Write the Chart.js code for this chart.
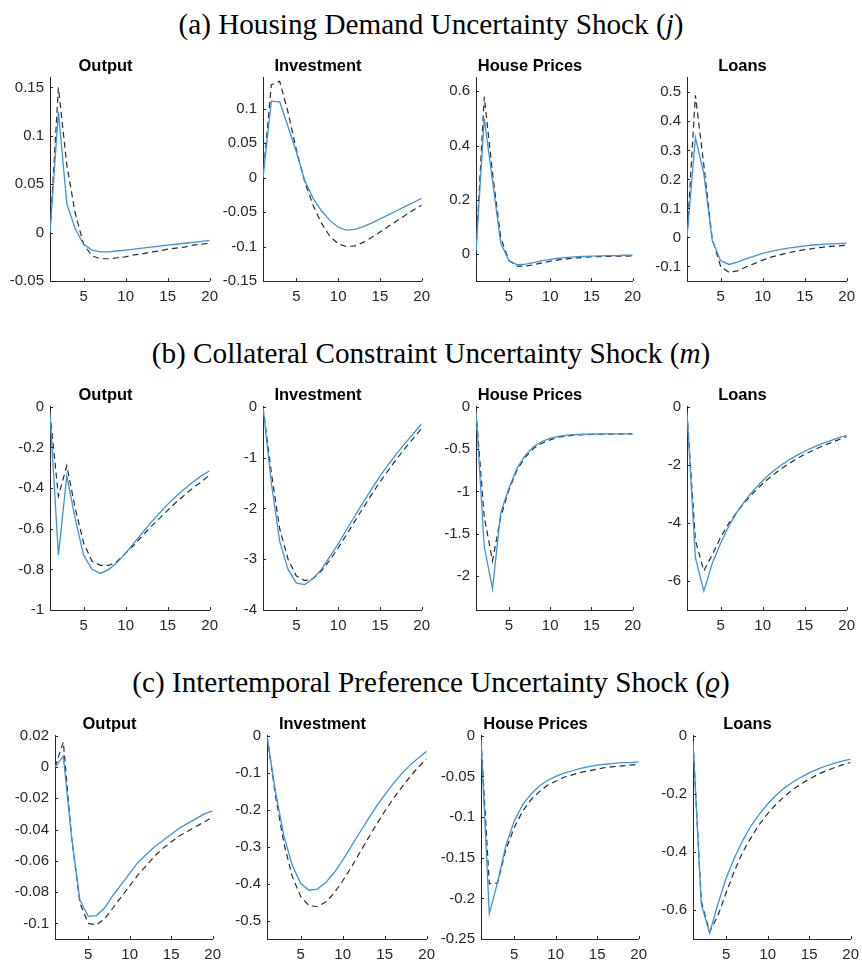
<!DOCTYPE html>
<html lang="en">
<head>
  <meta charset="UTF-8" />
  <title>Uncertainty shock impulse responses</title>
  <script src="https://cdn.jsdelivr.net/npm/chart.js"></script>
  <style>
    body { margin: 0; background: #fff; width: 862px; height: 963px; position: relative; overflow: hidden; }
    .heading { position: absolute; left: 0; width: 862px; text-align: center; white-space: nowrap;
               font-family: "Liberation Serif", "DejaVu Serif", serif; color: #000; line-height: 1.2; }
    .panel { position: absolute; }
  </style>
</head>
<body>
  <div class="heading" id="hA">(a) Housing Demand Uncertainty Shock (<i>j</i>)</div>
  <div class="heading" id="hB">(b) Collateral Constraint Uncertainty Shock (<i>m</i>)</div>
  <div class="heading" id="hC">(c) Intertemporal Preference Uncertainty Shock (<i>ϱ</i>)</div>

  <script>
    // horizon (quarters)
    const periods = [1,2,3,4,5,6,7,8,9,10,11,12,13,14,15,16,17,18,19,20];
    const xTicks = [5, 10, 15, 20];

    // (a) housing demand uncertainty shock: solid (blue) and dashed (black)
    const jOutputSolid = [0,0.125,0.03,0.004,-0.012,-0.018,-0.020,-0.020,-0.019,-0.018,-0.017,-0.016,-0.015,-0.014,-0.013,-0.012,-0.011,-0.010,-0.009,-0.008];
    const jOutputDash  = [0,0.150,0.07,0.02,-0.012,-0.024,-0.027,-0.027,-0.026,-0.025,-0.023,-0.022,-0.020,-0.019,-0.017,-0.016,-0.015,-0.013,-0.012,-0.011];
    const jInvSolid = [0,0.111,0.110,0.074,0.037,-0.004,-0.030,-0.048,-0.062,-0.072,-0.076,-0.075,-0.071,-0.066,-0.060,-0.054,-0.048,-0.042,-0.036,-0.030];
    const jInvDash  = [0,0.135,0.140,0.095,0.040,-0.006,-0.040,-0.066,-0.085,-0.096,-0.100,-0.099,-0.094,-0.087,-0.079,-0.071,-0.063,-0.055,-0.047,-0.040];
    const jHouseSolid = [0.01,0.50,0.27,0.04,-0.025,-0.040,-0.038,-0.032,-0.025,-0.020,-0.016,-0.013,-0.011,-0.009,-0.008,-0.007,-0.006,-0.006,-0.005,-0.005];
    const jHouseDash  = [0.01,0.58,0.30,0.06,-0.025,-0.045,-0.045,-0.040,-0.033,-0.027,-0.022,-0.018,-0.015,-0.013,-0.011,-0.010,-0.009,-0.008,-0.008,-0.007];
    const jLoansSolid = [0,0.345,0.22,-0.01,-0.080,-0.093,-0.085,-0.074,-0.064,-0.055,-0.048,-0.042,-0.037,-0.033,-0.029,-0.026,-0.024,-0.022,-0.021,-0.020];
    const jLoansDash  = [0,0.490,0.25,-0.005,-0.100,-0.120,-0.115,-0.102,-0.090,-0.078,-0.068,-0.060,-0.053,-0.047,-0.042,-0.038,-0.034,-0.031,-0.029,-0.027];

    // (b) collateral constraint uncertainty shock
    const mOutputSolid = [-0.03,-0.73,-0.34,-0.55,-0.73,-0.80,-0.82,-0.80,-0.765,-0.72,-0.67,-0.62,-0.57,-0.525,-0.48,-0.44,-0.405,-0.37,-0.34,-0.315];
    const mOutputDash  = [-0.03,-0.44,-0.29,-0.50,-0.67,-0.76,-0.78,-0.78,-0.76,-0.72,-0.68,-0.635,-0.59,-0.55,-0.51,-0.47,-0.435,-0.40,-0.37,-0.335];
    const mInvSolid = [0,-1.5,-2.65,-3.2,-3.47,-3.5,-3.38,-3.2,-2.95,-2.7,-2.42,-2.15,-1.88,-1.62,-1.37,-1.14,-0.92,-0.72,-0.53,-0.33];
    const mInvDash  = [0,-1.3,-2.4,-3.0,-3.33,-3.42,-3.38,-3.23,-3.02,-2.78,-2.52,-2.25,-1.99,-1.73,-1.48,-1.25,-1.03,-0.82,-0.62,-0.43];
    const mHouseSolid = [-0.05,-1.65,-2.15,-1.25,-0.96,-0.72,-0.57,-0.47,-0.41,-0.37,-0.35,-0.335,-0.328,-0.324,-0.322,-0.321,-0.32,-0.32,-0.32,-0.32];
    const mHouseDash  = [-0.05,-1.30,-1.82,-1.30,-0.98,-0.74,-0.59,-0.49,-0.43,-0.39,-0.36,-0.345,-0.335,-0.33,-0.326,-0.324,-0.322,-0.321,-0.32,-0.32];
    const mLoansSolid = [-0.2,-5.2,-6.35,-5.4,-4.7,-4.1,-3.6,-3.2,-2.85,-2.55,-2.28,-2.05,-1.85,-1.68,-1.53,-1.40,-1.28,-1.17,-1.07,-0.98];
    const mLoansDash  = [-0.2,-4.6,-5.65,-5.1,-4.5,-4.0,-3.6,-3.25,-2.93,-2.65,-2.40,-2.18,-1.98,-1.80,-1.64,-1.50,-1.37,-1.25,-1.14,-1.02];

    // (c) intertemporal preference uncertainty shock
    const rOutputSolid = [0,0.007,-0.045,-0.085,-0.0955,-0.095,-0.090,-0.082,-0.075,-0.068,-0.061,-0.056,-0.051,-0.047,-0.043,-0.039,-0.036,-0.033,-0.030,-0.028];
    const rOutputDash  = [0,0.016,-0.045,-0.087,-0.100,-0.101,-0.097,-0.090,-0.083,-0.076,-0.069,-0.063,-0.057,-0.052,-0.048,-0.044,-0.041,-0.038,-0.035,-0.032];
    const rInvSolid = [0,-0.15,-0.27,-0.35,-0.40,-0.418,-0.415,-0.397,-0.37,-0.337,-0.30,-0.263,-0.227,-0.192,-0.16,-0.13,-0.103,-0.08,-0.06,-0.042];
    const rInvDash  = [0,-0.16,-0.29,-0.38,-0.435,-0.46,-0.462,-0.45,-0.425,-0.393,-0.357,-0.318,-0.279,-0.241,-0.205,-0.171,-0.14,-0.111,-0.085,-0.062];
    const rHouseSolid = [-0.005,-0.219,-0.18,-0.135,-0.105,-0.085,-0.072,-0.062,-0.055,-0.050,-0.046,-0.043,-0.040,-0.038,-0.036,-0.035,-0.034,-0.033,-0.033,-0.032];
    const rHouseDash  = [-0.005,-0.182,-0.181,-0.140,-0.113,-0.093,-0.079,-0.069,-0.061,-0.056,-0.051,-0.048,-0.045,-0.043,-0.041,-0.039,-0.038,-0.037,-0.036,-0.035];
    const rLoansSolid = [-0.02,-0.58,-0.68,-0.58,-0.49,-0.42,-0.36,-0.31,-0.27,-0.235,-0.205,-0.18,-0.16,-0.143,-0.128,-0.115,-0.104,-0.095,-0.087,-0.08];
    const rLoansDash  = [-0.02,-0.57,-0.675,-0.62,-0.54,-0.465,-0.40,-0.35,-0.305,-0.268,-0.236,-0.209,-0.186,-0.166,-0.149,-0.134,-0.121,-0.110,-0.100,-0.092];

    // y tick labels per panel
    const jOutputTicks = [-0.05, 0, 0.05, 0.1, 0.15];
    const jInvTicks = [-0.15, -0.1, -0.05, 0, 0.05, 0.1];
    const jHouseTicks = [0, 0.2, 0.4, 0.6];
    const jLoansTicks = [-0.1, 0, 0.1, 0.2, 0.3, 0.4, 0.5];
    const mOutputTicks = [-1, -0.8, -0.6, -0.4, -0.2, 0];
    const mInvTicks = [-4, -3, -2, -1, 0];
    const mHouseTicks = [-2, -1.5, -1, -0.5, 0];
    const mLoansTicks = [-6, -4, -2, 0];
    const rOutputTicks = [-0.1, -0.08, -0.06, -0.04, -0.02, 0, 0.02];
    const rInvTicks = [-0.5, -0.4, -0.3, -0.2, -0.1, 0];
    const rHouseTicks = [-0.25, -0.2, -0.15, -0.1, -0.05, 0];
    const rLoansTicks = [-0.6, -0.4, -0.2, 0];

    const BLUE = '#3f92d8';
    const AXIS = '#262626';
    const SANS = '"Liberation Sans", Arial, sans-serif';

    // fit the serif headings to the width of the original
    function placeHeadings() {
      const a = document.getElementById('hA');
      const span = document.createElement('span');
      span.innerHTML = a.innerHTML;
      span.style.cssText = 'position:absolute;visibility:hidden;white-space:nowrap;font-family:"Liberation Serif","DejaVu Serif",serif;font-size:24px';
      document.body.appendChild(span);
      const size = 24 * 505 / span.offsetWidth;
      span.remove();
      [['hA', 25], ['hB', 354], ['hC', 683]].forEach(([id, cy]) => {
        const el = document.getElementById(id);
        el.style.fontSize = size + 'px';
        el.style.top = (cy - size * 0.6) + 'px';
      });
    }
    placeHeadings();

    // inward tick marks like MATLAB axes
    const innerTicks = {
      id: 'innerTicks',
      afterDraw(chart) {
        const { ctx, chartArea, scales } = chart;
        ctx.save();
        ctx.strokeStyle = AXIS;
        ctx.lineWidth = 1;
        ctx.beginPath();
        scales.x.ticks.forEach(t => {
          const px = Math.round(scales.x.getPixelForValue(t.value)) + 0.5;
          ctx.moveTo(px, chartArea.bottom);
          ctx.lineTo(px, chartArea.bottom - 3);
        });
        scales.y.ticks.forEach(t => {
          const py = Math.round(scales.y.getPixelForValue(t.value)) + 0.5;
          ctx.moveTo(chartArea.left, py);
          ctx.lineTo(chartArea.left + 3, py);
        });
        ctx.stroke();
        ctx.restore();
      }
    };

    function makePanel(title, solid, dash, yTicks, yMin, yMax, box) {
      const [left, top, right, bottom] = box;
      const div = document.createElement('div');
      div.className = 'panel';
      const w = right - left + 50 + 14;
      const h = bottom - top + 30 + 26;
      div.style.cssText = `left:${left - 50}px;top:${top - 30}px;width:${w}px;height:${h}px`;
      const canvas = document.createElement('canvas');
      div.appendChild(canvas);
      document.body.appendChild(div);

      new Chart(canvas, {
        type: 'line',
        data: {
          labels: periods,
          datasets: [
            { data: periods.map((p, i) => ({ x: p, y: solid[i] })), borderColor: BLUE, borderWidth: 1.3, order: 0 },
            { data: periods.map((p, i) => ({ x: p, y: dash[i] })), borderColor: '#2b2b2b', borderWidth: 1.2, borderDash: [6, 4], order: 1 }
          ]
        },
        options: {
          responsive: true,
          maintainAspectRatio: false,
          animation: false,
          layout: { padding: { left: 0, top: 0, right: 14, bottom: 0 } },
          elements: { point: { radius: 0 }, line: { tension: 0 } },
          plugins: {
            legend: { display: false },
            tooltip: { enabled: false },
            title: {
              display: true, text: title, color: '#000',
              font: { family: SANS, size: 16.5, weight: 'bold', lineHeight: 1.2 },
              padding: { top: 9, bottom: 1 }
            }
          },
          scales: {
            x: {
              type: 'linear', min: 1, max: 20,
              afterBuildTicks: s => { s.ticks = xTicks.map(v => ({ value: v })); },
              afterFit: s => { s.height = 26; },
              grid: { display: true, drawOnChartArea: false, drawTicks: false },
              border: { display: true, color: AXIS, width: 1 },
              ticks: { color: AXIS, padding: 7, maxRotation: 0, font: { family: SANS, size: 15 } }
            },
            y: {
              type: 'linear', min: yMin, max: yMax,
              afterBuildTicks: s => { s.ticks = yTicks.map(v => ({ value: v })); },
              afterFit: s => { s.width = 50; },
              grid: { display: true, drawOnChartArea: false, drawTicks: false },
              border: { display: true, color: AXIS, width: 1 },
              ticks: { color: AXIS, padding: 6, font: { family: SANS, size: 15 },
                       callback: v => String(Number(v.toFixed(4))) }
            }
          }
        },
        plugins: [innerTicks]
      });
    }

    // row (a)
    makePanel('Output', jOutputSolid, jOutputDash, jOutputTicks, -0.05, 0.16, [50, 78, 211, 281]);
    makePanel('Investment', jInvSolid, jInvDash, jInvTicks, -0.15, 0.145, [263, 78, 423, 281]);
    makePanel('House Prices', jHouseSolid, jHouseDash, jHouseTicks, -0.1, 0.65, [476, 78, 634, 281]);
    makePanel('Loans', jLoansSolid, jLoansDash, jLoansTicks, -0.15, 0.55, [687, 78, 848, 281]);
    // row (b)
    makePanel('Output', mOutputSolid, mOutputDash, mOutputTicks, -1, 0, [50, 407, 211, 610]);
    makePanel('Investment', mInvSolid, mInvDash, mInvTicks, -4, 0, [263, 407, 423, 610]);
    makePanel('House Prices', mHouseSolid, mHouseDash, mHouseTicks, -2.4, 0, [476, 407, 634, 610]);
    makePanel('Loans', mLoansSolid, mLoansDash, mLoansTicks, -7, 0, [687, 407, 848, 610]);
    // row (c)
    makePanel('Output', rOutputSolid, rOutputDash, rOutputTicks, -0.11, 0.02, [55, 736, 214, 939]);
    makePanel('Investment', rInvSolid, rInvDash, rInvTicks, -0.55, 0, [267, 736, 428, 939]);
    makePanel('House Prices', rHouseSolid, rHouseDash, rHouseTicks, -0.25, 0, [481, 736, 640, 939]);
    makePanel('Loans', rLoansSolid, rLoansDash, rLoansTicks, -0.7, 0, [693, 736, 852, 939]);
  </script>
</body>
</html>
